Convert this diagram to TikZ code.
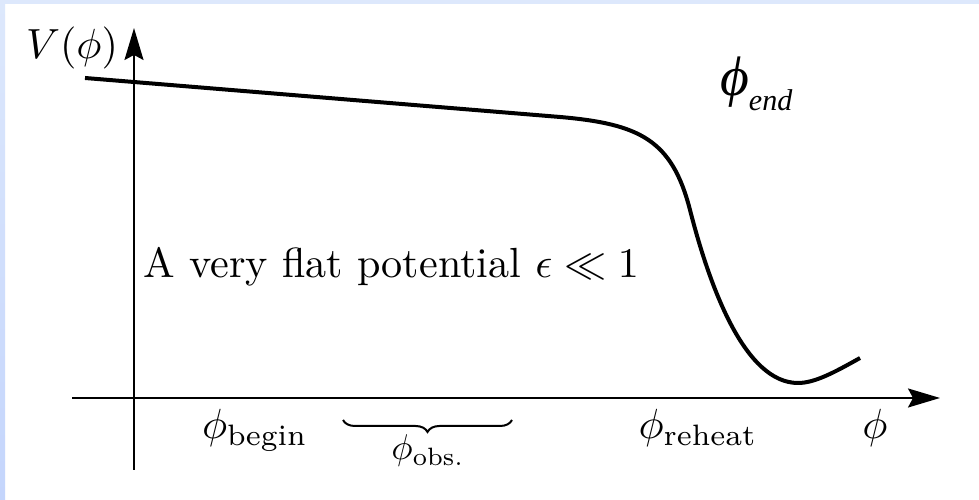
\documentclass[tikz,border=0pt]{standalone}
\usepackage{fontspec}
\usepackage{amssymb}
\usetikzlibrary{arrows.meta,decorations.pathreplacing}
\newfontfamily\timesfont{Liberation Serif}
\definecolor{frametop}{RGB}{221,232,252}
\definecolor{framebot}{RGB}{196,213,252}

\begin{document}
\begin{tikzpicture}[x=0.1mm, y=0.1mm, every node/.style={inner sep=0pt, transform shape, scale=1.2}]
  \useasboundingbox (0,0) rectangle (979,500);
  \fill[white] (0,0) rectangle (979,500);
  \shade[top color=frametop, bottom color=framebot] (0,0) rectangle (5,500);
  \fill[frametop] (0,496) rectangle (979,500);
  % axes
  \coordinate (xstart) at (72,102);
  \coordinate (xend) at (940,102);
  \coordinate (ystart) at (134,30);
  \coordinate (yend) at (134,472);
  \draw[line width=0.2mm, -{Stealth[length=3.2mm,width=1.9mm,inset=0.5mm]}] (xstart) -- (xend);
  \draw[line width=0.2mm, -{Stealth[length=3.2mm,width=1.9mm,inset=0.5mm]}] (ystart) -- (yend);
  % potential
  \draw[line width=0.4mm, line join=round] (85,422) -- (560,383)
    .. controls (640,376) and (672,360) .. (690,290)
    .. controls (710,212) and (745,117) .. (798,117)
    .. controls (815,117) and (835,128) .. (860,142);
  \node (vlabel) at (72,452) {$V(\phi)$};
  \node[anchor=base west] (flat) at (143,222) {A very flat potential $\epsilon \ll 1$};
  \foreach \x/\name/\txt in {255/begin/{$\phi_{\mathrm{begin}}$}, 698/reheat/{$\phi_{\mathrm{reheat}}$}, 875/field/{$\phi$}}
    \node[anchor=base] (\name) at (\x,61) {\txt};
  % observable window
  \coordinate (obsleft) at (343,80);
  \coordinate (obsright) at (512,80);
  \draw[line width=0.2mm, decorate, decoration={brace, mirror, amplitude=1.2mm}] (obsleft) -- (obsright);
  \node[scale=0.85] (obs) at (428,49) {$\phi_{\mathrm{obs.}}$};
  \node[anchor=base west, scale=1.32, font=\timesfont\itshape] (endlabel) at (719,404) {ϕ\raisebox{-2.6pt}{\fontsize{5.4}{6}\selectfont end}};
\end{tikzpicture}
\end{document}
